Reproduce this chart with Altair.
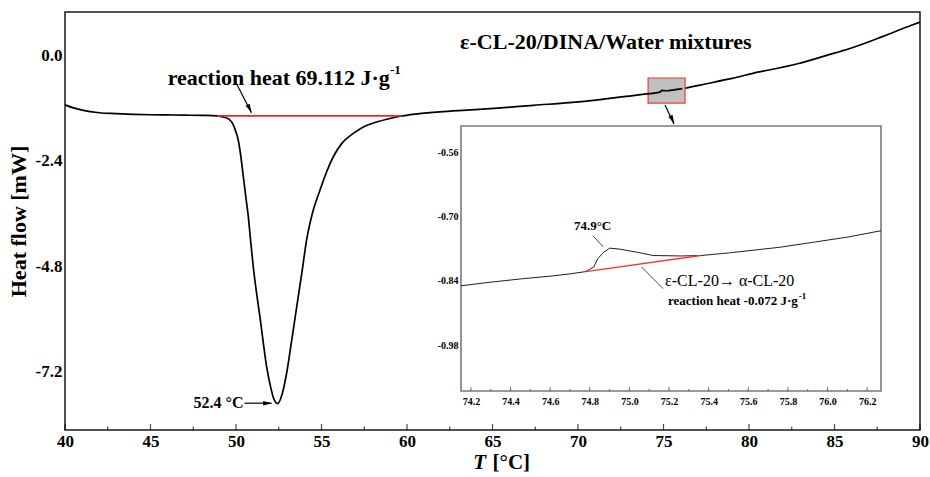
import altair as alt
import pandas as pd

# ---------------- data ----------------
T_main = [40.0, 40.5, 41.0, 42.0, 43.0, 44.0, 45.0, 46.0, 47.0, 48.0, 48.9, 49.3, 49.6, 49.8,
          50.0, 50.13, 50.3, 50.43, 50.6, 50.72, 50.85, 51.01, 51.2, 51.4, 51.6, 51.79, 52.0,
          52.2, 52.43, 52.7, 52.96, 53.25, 53.55, 53.85, 54.13, 54.5, 54.91, 55.3, 55.69, 56.2,
          56.86, 57.5, 58.22, 59.0, 59.6, 60.5, 61.93, 63.5, 65.5, 67.4, 69.5, 71.3, 73.0, 74.0,
          74.8, 74.9, 75.2, 75.6, 76.1, 77.5, 79.0, 80.6, 81.0, 82.9, 84.5, 85.9, 87.8, 89.5, 90.0]
hf_main = [-1.13, -1.20, -1.25, -1.31, -1.33, -1.345, -1.355, -1.36, -1.365, -1.37, -1.38, -1.41,
           -1.46, -1.55, -1.75, -1.93, -2.35, -2.77, -3.30, -3.67, -4.20, -4.81, -5.40, -5.95,
           -6.55, -7.08, -7.50, -7.80, -7.92, -7.70, -7.23, -6.50, -5.72, -4.95, -4.20, -3.55,
           -3.07, -2.65, -2.31, -2.00, -1.78, -1.62, -1.52, -1.44, -1.39, -1.34, -1.29, -1.25,
           -1.20, -1.14, -1.08, -1.01, -0.93, -0.88, -0.84, -0.80, -0.81, -0.79, -0.76, -0.65,
           -0.53, -0.38, -0.35, -0.19, -0.01, 0.15, 0.42, 0.68, 0.75]

T_inset = [74.15, 74.30, 74.45, 74.60, 74.70, 74.78, 74.82, 74.84, 74.87, 74.90, 74.95, 75.04,
           75.12, 75.26, 75.36, 75.46, 75.51, 75.76, 75.93, 76.10, 76.27]
hf_inset = [-0.851, -0.843, -0.836, -0.830, -0.825, -0.820, -0.810, -0.792, -0.778, -0.769,
            -0.771, -0.778, -0.785, -0.786, -0.785, -0.781, -0.779, -0.767, -0.756, -0.745, -0.731]

baseline_T = [48.9, 59.7]
baseline_hf = [-1.38, -1.38]
inset_baseline_T = [74.78, 75.36]
inset_baseline_hf = [-0.820, -0.785]

x_major = [40, 45, 50, 55, 60, 65, 70, 75, 80, 85, 90]
x_minor = [42.5, 47.5, 52.5, 57.5, 62.5, 67.5, 72.5, 77.5, 82.5, 87.5]
y_ticks = [0.0, -2.4, -4.8, -7.2]
inset_x_major = [74.2, 74.4, 74.6, 74.8, 75.0, 75.2, 75.4, 75.6, 75.8, 76.0, 76.2]
inset_x_minor = [74.3, 74.5, 74.7, 74.9, 75.1, 75.3, 75.5, 75.7, 75.9, 76.1]
inset_y_ticks = [-0.56, -0.70, -0.84, -0.98]

zoom_box_T = [74.1, 76.26]
zoom_box_hf = [-1.09, -0.52]

# ---------------- layout ----------------
W, H = 855, 418
XD = [40, 90]
YD = [-8.52, 0.98]
IXD = [74.15, 76.27]
IYD = [-1.08, -0.503]
IXR = [396, 816]
IYR = [379, 114]
FONT = "Liberation Serif"

main_df = pd.DataFrame({"T": T_main, "hf": hf_main})
inset_df = pd.DataFrame({"T": T_inset, "hf": hf_inset})
base_df = pd.DataFrame({"T": baseline_T, "hf": baseline_hf})
ibase_df = pd.DataFrame({"T": inset_baseline_T, "hf": inset_baseline_hf})
one = pd.DataFrame({"a": [0]})

xs = alt.Scale(domain=XD, nice=False, zero=False)
ys = alt.Scale(domain=YD, nice=False, zero=False)
ixs = alt.Scale(domain=IXD, range=IXR, nice=False, zero=False)
iys = alt.Scale(domain=IYD, range=IYR, nice=False, zero=False)

lab_expr1 = "datum.value < 0 ? '-' + format(-datum.value, '.1f') : format(datum.value, '.1f')"
lab_expr2 = "datum.value < 0 ? '-' + format(-datum.value, '.2f') : format(datum.value, '.2f')"

x_axis = alt.Axis(values=x_major, format="d", ticks=False, domain=False, grid=False,
                  labelFont=FONT, labelFontSize=17, labelFontWeight="bold", labelColor="black",
                  labelPadding=3, labelFlush=False, labelOverlap=False, title=None)
y_axis = alt.Axis(values=y_ticks, labelExpr=lab_expr1, ticks=False, domain=False, grid=False,
                  labelFont=FONT, labelFontSize=17, labelFontWeight="bold", labelColor="black",
                  labelPadding=3, labelFlush=False, labelOverlap=False,
                  title="Heat flow [mW]", titleFont=FONT, titleFontSize=22, titleFontWeight="bold",
                  titleColor="black", titlePadding=5)

ix_axis = alt.Axis(orient="bottom", offset=-(H - IYR[0]), values=inset_x_major, format=".1f",
                   ticks=False, domain=False, grid=False, labelFont=FONT, labelFontSize=10,
                   labelFontWeight="bold", labelColor="black", labelPadding=5, labelFlush=False,
                   labelOverlap=False, title=None)
iy_axis = alt.Axis(orient="left", offset=-IXR[0], values=inset_y_ticks, labelExpr=lab_expr2,
                   ticks=False, domain=False, grid=False, labelFont=FONT, labelFontSize=10,
                   labelFontWeight="bold", labelColor="black", labelPadding=3, labelFlush=False,
                   labelOverlap=False, title=None)

ARROW = "M0,-1L0.5,1L-0.5,1Z"


def text(t, x, y, size, weight="bold", align="center", dy=0, color="black", style="normal"):
    return alt.Chart(one).mark_text(text=t, font=FONT, fontSize=size, fontWeight=weight,
                                    fontStyle=style, align=align, baseline="middle", dy=dy,
                                    color=color).encode(x=alt.datum(x), y=y)


def seg(x1, y1, x2, y2, color="black", width=1.2):
    return alt.Chart(one).mark_rule(color=color, strokeWidth=width).encode(
        x=alt.datum(x1), y=alt.datum(y1), x2=alt.datum(x2), y2=alt.datum(y2))


def head(x, y, angle, size=81):
    return alt.Chart(one).mark_point(shape=ARROW, filled=True, color="black", size=size,
                                     angle=angle, opacity=1, strokeWidth=0).encode(
        x=alt.datum(x), y=alt.datum(y))


D = alt.datum

# ---------------- main plot ----------------
curve = alt.Chart(main_df).mark_line(color="black", strokeWidth=1.7, interpolate="monotone").encode(
    x=alt.X("T:Q", scale=xs, axis=x_axis),
    y=alt.Y("hf:Q", scale=ys, axis=y_axis),
)
baseline = alt.Chart(base_df).mark_line(color="#ff2020", strokeWidth=1.6).encode(x="T:Q", y="hf:Q")
box = alt.Chart(one).mark_rect(fill="#c0c0c0", stroke="#ff3030", strokeWidth=1.2).encode(
    x=alt.datum(zoom_box_T[0]), x2=alt.datum(zoom_box_T[1]),
    y=alt.datum(zoom_box_hf[0]), y2=alt.datum(zoom_box_hf[1]))
box_curve = alt.Chart(main_df).transform_filter(
    (alt.datum.T >= 73.9) & (alt.datum.T <= 76.5)).mark_line(
    color="black", strokeWidth=1.7, interpolate="monotone").encode(x="T:Q", y="hf:Q")

maj = alt.Chart(pd.DataFrame({"v": x_major})).mark_tick(
    orient="vertical", size=6, thickness=1.2, yOffset=-3, color="black").encode(
    x="v:Q", y=alt.datum(YD[0]))
mino = alt.Chart(pd.DataFrame({"v": x_minor})).mark_tick(
    orient="vertical", size=3.5, thickness=1.2, yOffset=-1.75, color="black").encode(
    x="v:Q", y=alt.datum(YD[0]))

main_layer = alt.layer(
    curve, baseline, box, box_curve, maj, mino,
    text("ε-CL-20/DINA/Water mixtures", 71.63, D(0.30), 22),
    text("reaction heat 69.112 J·g", 58.99, D(-0.52), 22, align="right"),
    text("-1", 59.0, D(-0.52), 13, align="left", dy=-8),
    seg(49.92, -0.565, 50.90, -1.31), head(50.80, -1.22, 152.9),
    text("52.4 °C", 50.44, D(-7.91), 16, align="right"),
    seg(50.50, -7.91, 52.08, -7.91), head(51.85, -7.91, 90),
    seg(75.09, -1.134, 75.61, -1.565), head(75.52, -1.47, 154.7),
    # x-axis title: italic T followed by upright unit
    text("T", 64.62, alt.value(H + 33), 21, align="right", style="italic"),
    text("[°C]", 65.0, alt.value(H + 33), 21, align="left"),
)

# ---------------- inset ----------------
frame = alt.Chart(one).mark_rect(fill="white", stroke="#7a7a7a", strokeWidth=1.6).encode(
    x=alt.X(datum=IXD[0], scale=ixs, axis=ix_axis), x2=alt.datum(IXD[1]),
    y=alt.Y(datum=IYD[0], scale=iys, axis=iy_axis), y2=alt.datum(IYD[1]))
icurve = alt.Chart(inset_df).mark_line(color="#202020", strokeWidth=1.0).encode(x="T:Q", y="hf:Q")
ibase = alt.Chart(ibase_df).mark_line(color="#ff3030", strokeWidth=1.3).encode(x="T:Q", y="hf:Q")
imaj = alt.Chart(pd.DataFrame({"v": inset_x_major})).mark_tick(
    orient="vertical", size=4, thickness=1, yOffset=-2, color="#333").encode(
    x="v:Q", y=alt.datum(IYD[0]))
imin = alt.Chart(pd.DataFrame({"v": inset_x_minor})).mark_tick(
    orient="vertical", size=2, thickness=1, yOffset=-1, color="#333").encode(
    x="v:Q", y=alt.datum(IYD[0]))

inset_layer = alt.layer(
    frame, icurve, ibase, imaj, imin,
    text("74.9°C", 74.814, D(-0.720), 13),
    seg(74.816, -0.742, 74.867, -0.766, color="#333", width=0.9),
    text("ε-CL-20→ α-CL-20", 75.18, D(-0.840), 16, weight="normal", align="left"),
    text("reaction heat -0.072 J·g", 75.85, D(-0.883), 13, align="right"),
    text("-1", 75.855, D(-0.883), 9, align="left", dy=-5),
    seg(75.062, -0.810, 75.170, -0.857, color="#333", width=0.9),
)

chart = alt.layer(main_layer, inset_layer).resolve_scale(
    x="independent", y="independent"
).properties(
    width=W, height=H,
    autosize=alt.AutoSizeParams(type="none"),
    padding={"left": 65, "top": 12, "right": 10, "bottom": 47},
    background="white",
).configure_view(stroke="#1a1a1a", strokeWidth=1.5)

chart.save("out.html", embed_options={"renderer": "svg", "actions": False})
